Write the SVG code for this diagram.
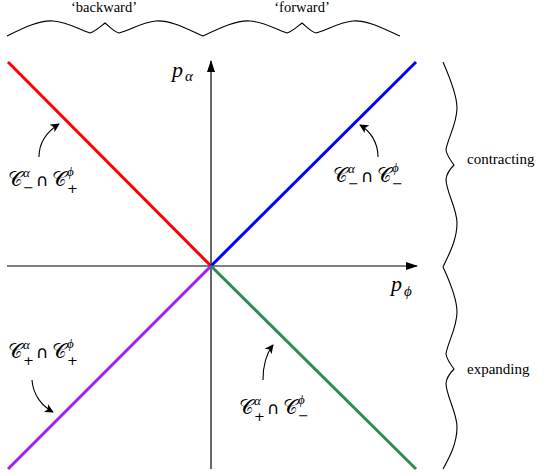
<svg xmlns="http://www.w3.org/2000/svg" width="545" height="476" viewBox="0 0 545 476">
<style>
.t{font-family:"Liberation Serif","DejaVu Serif",serif;fill:#000}
.cal{font-family:"DejaVu Sans","Noto Sans",serif;font-size:20px;fill:#000}
.i{font-family:"Liberation Serif",serif;font-style:italic;fill:#000}
.sup{font-family:"Liberation Serif",serif;font-style:italic;font-size:13px;fill:#000}
.op{font-family:"DejaVu Sans",sans-serif;font-size:13px;fill:#000}
.cap{font-family:"DejaVu Sans",sans-serif;font-size:17px;fill:#000}
.axis{stroke:#000;stroke-width:1.2;fill:none}
.brace{stroke:#000;stroke-width:1.1;fill:none}
.arc{stroke:#000;stroke-width:1.1;fill:none;marker-end:url(#ah)}
</style>
<defs>
<marker id="ah" viewBox="0 0 10 10" refX="9" refY="5" markerWidth="9" markerHeight="9" markerUnits="userSpaceOnUse" orient="auto">
<path d="M0,0 L10,5 L0,10 L2.5,5 Z" fill="#000"/>
</marker>
<marker id="ax" viewBox="0 0 12 10" refX="11" refY="5" markerWidth="12" markerHeight="10" markerUnits="userSpaceOnUse" orient="auto">
<path d="M0,1 L12,5 L0,9 Z" fill="#000"/>
</marker>
</defs>
<g id="connectors">
<line class="axis" x1="7" y1="266" x2="417" y2="266" marker-end="url(#ax)"/>
<line class="axis" x1="211" y1="469" x2="211" y2="61" marker-end="url(#ax)"/>
<line x1="8" y1="62" x2="211" y2="266" stroke="#ff0000" stroke-width="3"/>
<line x1="211" y1="266" x2="416" y2="62" stroke="#0000ff" stroke-width="3"/>
<line x1="211" y1="266" x2="8" y2="469" stroke="#a020f0" stroke-width="3"/>
<line x1="211" y1="266" x2="416" y2="469" stroke="#2e8b57" stroke-width="3"/>
<path class="arc" d="M39,157 C39,142 48,131 59,124"/>
<path class="arc" d="M378,157 C378,142 370,131 360,125"/>
<path class="arc" d="M32,380 C33,395 42,406 53,412"/>
<path class="arc" d="M263,380 C263,366 266,354 273,345"/>
</g>
<g id="brace-top">
<path class="brace" d="M7,36 C25,27 40,20 53,21 C68,22 80,30 90,33 C96,31 101,26 105,23 C109,26 113,31 119,33 C130,30 143,22 156,21 C170,20 185,28 203,36"/>
<path class="brace" transform="translate(197,0)" d="M6,36 C25,27 40,20 53,21 C68,22 80,30 90,33 C96,31 101,26 105,23 C109,26 113,31 119,33 C130,30 143,22 156,21 C170,20 185,28 203,36"/>
</g>
<g id="brace-right">
<path class="brace" d="M443,62 C450,78 457,95 457,108 C457,124 447,140 446,150 C447,156 451,161 454,165 C451,168 447,172 446,179 C446,192 457,208 457,223 C457,240 449,254 443,267"/>
<path class="brace" transform="translate(0,204)" d="M443,63 C450,78 457,95 457,108 C457,124 447,140 446,150 C447,156 451,161 454,165 C451,168 447,172 446,179 C446,192 457,208 457,223 C457,240 449,254 443,265"/>
</g>
<g id="label-backward"><text class="t" x="104" y="12" style="font-size:14.5px" text-anchor="middle">‘backward’</text></g>
<g id="label-forward"><text class="t" x="302" y="12" style="font-size:14.5px" text-anchor="middle">‘forward’</text></g>
<g id="label-contracting"><text class="t" x="467" y="164" style="font-size:15px">contracting</text></g>
<g id="label-expanding"><text class="t" x="467" y="374" style="font-size:15px">expanding</text></g>
<g id="label-palpha"><text class="i" x="172" y="77" style="font-size:22px">p</text><text class="i" x="185" y="81" style="font-size:15px">α</text></g>
<g id="label-pphi"><text class="i" x="391" y="291" style="font-size:22px">p</text><text class="i" x="404" y="296" style="font-size:15px">ϕ</text></g>
<g id="label-mp">
<text class="cal" x="8" y="186">𝒞</text><text class="sup" x="23" y="177">α</text><text class="op" x="23" y="192">−</text>
<text class="cap" x="36" y="186">∩</text>
<text class="cal" x="52" y="186">𝒞</text><text class="sup" x="67" y="176">ϕ</text><text class="op" x="67" y="193">+</text>
</g>
<g id="label-mm">
<text class="cal" x="333" y="182">𝒞</text><text class="sup" x="348" y="173">α</text><text class="op" x="348" y="188">−</text>
<text class="cap" x="361" y="182">∩</text>
<text class="cal" x="377" y="182">𝒞</text><text class="sup" x="392" y="172">ϕ</text><text class="op" x="392" y="188">−</text>
</g>
<g id="label-pp">
<text class="cal" x="8" y="358">𝒞</text><text class="sup" x="23" y="349">α</text><text class="op" x="23" y="365">+</text>
<text class="cap" x="36" y="358">∩</text>
<text class="cal" x="52" y="358">𝒞</text><text class="sup" x="67" y="348">ϕ</text><text class="op" x="67" y="365">+</text>
</g>
<g id="label-pm">
<text class="cal" x="239" y="414">𝒞</text><text class="sup" x="254" y="405">α</text><text class="op" x="254" y="421">+</text>
<text class="cap" x="267" y="414">∩</text>
<text class="cal" x="283" y="414">𝒞</text><text class="sup" x="298" y="404">ϕ</text><text class="op" x="298" y="420">−</text>
</g>
</svg>
